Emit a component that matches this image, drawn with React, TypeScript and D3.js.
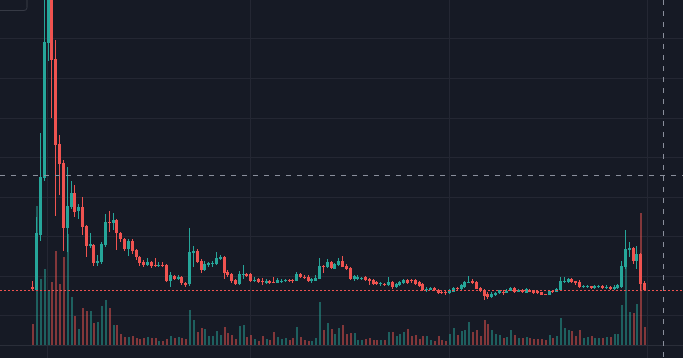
import React from 'react';
import * as d3 from 'd3';

const W = 683;
const H = 358;

// OHLC: [open, high, low, close]
const candles: [number, number, number, number][] = [
  [0.58,0.64,0.55,0.56],[0.55,1.28,0.54,1.12],[1.10,2.12,1.04,1.68],[1.67,3.85,1.64,3.03],[3.02,4.05,2.84,3.65],
  [3.60,3.95,2.27,2.85],[2.86,3.05,1.29,2.00],[2.01,2.10,1.50,1.81],[1.82,1.85,0.94,1.17],[1.17,1.78,0.93,1.39],
  [1.38,1.64,1.36,1.52],[1.52,1.60,1.28,1.33],[1.34,1.41,1.26,1.38],[1.38,1.48,1.10,1.18],[1.19,1.20,0.88,0.99],
  [0.99,1.12,0.97,1.01],[1.00,1.01,0.79,0.82],[0.82,0.90,0.79,0.84],[0.83,1.03,0.81,1.01],[1.00,1.31,0.98,1.23],
  [1.23,1.34,1.13,1.22],[1.22,1.32,1.15,1.25],[1.25,1.26,0.95,1.12],[1.12,1.13,1.03,1.06],[1.06,1.07,0.94,0.96],
  [0.96,1.06,0.89,1.04],[1.04,1.06,0.91,0.94],[0.95,0.96,0.85,0.88],[0.88,0.89,0.79,0.82],[0.83,0.85,0.78,0.80],
  [0.80,0.87,0.79,0.83],[0.83,0.84,0.77,0.79],[0.80,0.87,0.78,0.79],[0.79,0.83,0.78,0.80],[0.80,0.83,0.78,0.795],
  [0.80,0.81,0.63,0.64],[0.64,0.73,0.58,0.70],[0.69,0.70,0.65,0.66],[0.66,0.70,0.65,0.68],[0.68,0.69,0.60,0.62],
  [0.62,0.63,0.58,0.60],[0.61,1.17,0.59,0.93],[0.92,0.99,0.78,0.94],[0.94,0.96,0.82,0.83],[0.84,0.86,0.72,0.75],
  [0.75,0.84,0.74,0.81],[0.80,0.83,0.78,0.82],[0.81,0.84,0.78,0.82],[0.81,0.93,0.80,0.87],[0.86,0.90,0.85,0.88],
  [0.88,0.89,0.66,0.72],[0.73,0.75,0.68,0.70],[0.71,0.72,0.62,0.64],[0.65,0.66,0.60,0.61],[0.61,0.74,0.60,0.71],
  [0.70,0.80,0.66,0.71],[0.71,0.72,0.68,0.69],[0.71,0.72,0.63,0.64],[0.64,0.68,0.63,0.65],[0.66,0.67,0.62,0.63],
  [0.64,0.67,0.60,0.63],[0.62,0.66,0.61,0.64],[0.64,0.65,0.61,0.62],[0.63,0.68,0.62,0.62],[0.62,0.67,0.62,0.65],
  [0.63,0.66,0.62,0.64],[0.64,0.66,0.63,0.65],[0.65,0.66,0.63,0.64],[0.65,0.66,0.62,0.64],[0.64,0.73,0.64,0.71],
  [0.71,0.72,0.67,0.68],[0.68,0.70,0.66,0.67],[0.68,0.70,0.63,0.64],[0.64,0.67,0.62,0.66],[0.64,0.70,0.64,0.67],
  [0.66,0.87,0.66,0.79],[0.79,0.80,0.72,0.78],[0.78,0.86,0.77,0.83],[0.83,0.84,0.76,0.77],[0.76,0.82,0.76,0.81],
  [0.80,0.87,0.79,0.84],[0.84,0.89,0.78,0.78],[0.79,0.81,0.75,0.76],[0.77,0.78,0.65,0.66],[0.66,0.70,0.64,0.69],
  [0.66,0.70,0.65,0.68],[0.66,0.68,0.65,0.67],[0.68,0.69,0.64,0.65],[0.66,0.67,0.60,0.64],[0.65,0.66,0.60,0.61],
  [0.63,0.64,0.60,0.61],[0.61,0.63,0.59,0.62],[0.61,0.62,0.59,0.60],[0.60,0.68,0.59,0.63],[0.63,0.64,0.56,0.58],
  [0.58,0.62,0.57,0.61],[0.60,0.64,0.59,0.63],[0.62,0.66,0.61,0.65],[0.65,0.66,0.61,0.62],[0.65,0.66,0.62,0.64],
  [0.65,0.66,0.60,0.61],[0.63,0.64,0.58,0.59],[0.61,0.62,0.54,0.55],[0.55,0.58,0.53,0.56],[0.55,0.58,0.55,0.57],
  [0.57,0.58,0.54,0.55],[0.55,0.56,0.51,0.52],[0.53,0.54,0.51,0.52],[0.53,0.54,0.50,0.52],[0.52,0.56,0.51,0.55],
  [0.53,0.58,0.53,0.57],[0.57,0.58,0.55,0.56],[0.56,0.61,0.55,0.60],[0.58,0.64,0.57,0.63],[0.62,0.69,0.62,0.63],
  [0.64,0.66,0.61,0.62],[0.63,0.64,0.56,0.56],[0.57,0.58,0.53,0.54],[0.55,0.56,0.45,0.49],[0.51,0.53,0.46,0.48],
  [0.48,0.53,0.47,0.51],[0.50,0.53,0.49,0.52],[0.52,0.55,0.51,0.55],[0.53,0.55,0.50,0.52],[0.52,0.56,0.52,0.54],
  [0.54,0.58,0.54,0.57],[0.57,0.58,0.52,0.53],[0.53,0.56,0.53,0.55],[0.55,0.56,0.52,0.53],[0.52,0.57,0.52,0.56],
  [0.55,0.56,0.53,0.53],[0.55,0.55,0.51,0.52],[0.54,0.54,0.51,0.52],[0.53,0.53,0.50,0.50],[0.51,0.51,0.50,0.50],
  [0.50,0.54,0.50,0.54],[0.54,0.55,0.52,0.53],[0.53,0.57,0.53,0.56],[0.55,0.68,0.54,0.64],[0.63,0.68,0.62,0.64],
  [0.63,0.67,0.62,0.66],[0.66,0.67,0.62,0.63],[0.64,0.64,0.60,0.62],[0.63,0.65,0.57,0.58],[0.58,0.60,0.57,0.59],
  [0.58,0.60,0.57,0.59],[0.59,0.59,0.56,0.57],[0.57,0.60,0.56,0.59],[0.58,0.60,0.57,0.59],[0.59,0.60,0.56,0.57],
  [0.57,0.60,0.56,0.58],[0.58,0.59,0.55,0.56],[0.56,0.60,0.55,0.58],[0.57,0.61,0.56,0.60],[0.58,0.84,0.57,0.79],
  [0.78,1.15,0.76,0.96],[0.95,1.03,0.88,0.97],[0.97,0.98,0.81,0.84],[0.84,0.99,0.76,0.91],[0.91,0.92,0.55,0.61],
  [0.62,0.64,0.54,0.547],
];

// Volume (in 10K units)
const volumes: number[] = [
  21,139,66,76,54,63,94,61,88,111,
  48,29,16,37,34,34,22,23,39,45,
  37,20,20,11,8,8,9,7,6,7,
  8,7,7,4,4,6,9,7,8,7,
  6,35,25,13,17,16,9,9,14,10,
  18,12,10,6,19,20,8,10,6,4,
  9,6,5,13,8,6,7,5,7,18,
  8,5,4,4,7,43,15,22,16,11,
  17,20,11,12,12,5,5,6,7,5,
  5,5,5,13,13,9,11,13,16,9,
  10,6,9,9,5,4,9,5,4,11,
  17,10,14,15,23,13,15,9,25,21,
  15,11,10,7,8,15,10,7,7,8,
  7,6,6,6,5,10,7,9,27,17,
  15,14,9,15,7,8,9,7,7,7,
  8,8,11,11,40,78,33,32,41,132,
  18,
];

const gridPrices = [0.297, 0.693, 1.088, 1.484, 1.879, 2.275, 2.670, 3.066];
const timeGridIndex = [4, 57, 109, 161];
const crosshairIndex = 165;
const crosshairPrice = 1.70;

const UP = '#26a69a';
const DOWN = '#ef5350';
const UP_VOL = 'rgba(38,166,154,0.5)';
const DOWN_VOL = 'rgba(239,83,80,0.5)';
const BG = '#161a25';
const GRID = '#242733';
const PANE_BOTTOM = 345;

export default function App() {
  const n = candles.length;
  const x = d3.scaleLinear().domain([0, n - 1]).range([32.3, 644.14]);
  const y = d3.scaleLinear().domain([0, 3.45]).range([PANE_BOTTOM, 0]);
  const vMax = d3.max(volumes) as number;
  const yv = d3.scaleLinear().domain([0, vMax]).range([PANE_BOTTOM, PANE_BOTTOM - 139]);

  const lastClose = candles[n - 1][3];
  const priceLineY = Math.round(y(lastClose)) + 0.5;
  const chX = Math.floor(x(crosshairIndex)) + 0.5;
  const chY = Math.round(y(crosshairPrice)) + 0.5;

  return (
    <svg
      width={W}
      height={H}
      style={{ position: 'fixed', left: 0, top: 0, display: 'block' }}
      xmlns="http://www.w3.org/2000/svg"
    >
      <rect x={0} y={0} width={W} height={H} fill={BG} />
      {/* horizontal grid */}
      {gridPrices.map((p, i) => {
        const yy = Math.round(y(p)) + 0.5;
        return <line key={'h' + i} x1={0} x2={W} y1={yy} y2={yy} stroke={GRID} strokeWidth={1} />;
      })}
      {/* vertical grid */}
      {timeGridIndex.map((t, i) => {
        const xx = Math.floor(x(t)) + 0.5;
        return <line key={'v' + i} x1={xx} x2={xx} y1={0} y2={H} stroke={GRID} strokeWidth={1} />;
      })}
      {/* time scale border */}
      <line x1={0} x2={W} y1={PANE_BOTTOM + 0.5} y2={PANE_BOTTOM + 0.5} stroke="#2a2e39" strokeWidth={1} />

      {/* volume */}
      <g shapeRendering="crispEdges">
        {volumes.map((v, i) => {
          const [o, , , c] = candles[i];
          const cx = Math.round(x(i));
          const top = Math.round(yv(v));
          return (
            <rect
              key={'vol' + i}
              x={cx}
              y={top}
              width={2}
              height={PANE_BOTTOM - top}
              fill={c >= o ? UP_VOL : DOWN_VOL}
            />
          );
        })}
      </g>

      {/* candles */}
      <g shapeRendering="crispEdges">
        {candles.map(([o, h, l, c], i) => {
          const cx = Math.round(x(i));
          const col = c >= o ? UP : DOWN;
          const yh = Math.round(y(h));
          const yl = Math.round(y(l));
          const bt = Math.round(y(Math.max(o, c)));
          const bb = Math.round(y(Math.min(o, c)));
          return (
            <g key={'c' + i}>
              <rect x={cx} y={yh} width={1} height={Math.max(1, yl - yh)} fill={col} />
              <rect x={cx - 1} y={bt} width={3} height={Math.max(1, bb - bt)} fill={col} />
            </g>
          );
        })}
      </g>

      {/* last price line */}
      <line
        x1={0}
        x2={W}
        y1={priceLineY}
        y2={priceLineY}
        stroke={DOWN}
        strokeWidth={1}
        strokeDasharray="2 2"
      />

      {/* crosshair */}
      <line x1={0} x2={W} y1={chY} y2={chY} stroke="#8a8f9c" strokeWidth={1} strokeDasharray="5 6" />
      <line x1={chX} x2={chX} y1={0} y2={H} stroke="#8a8f9c" strokeWidth={1} strokeDasharray="5 6" />

      {/* legend box corner */}
      <rect x={-5} y={-6} width={32} height={16.5} rx={3} ry={3} fill={BG} stroke="#363a45" strokeWidth={1} />
    </svg>
  );
}
